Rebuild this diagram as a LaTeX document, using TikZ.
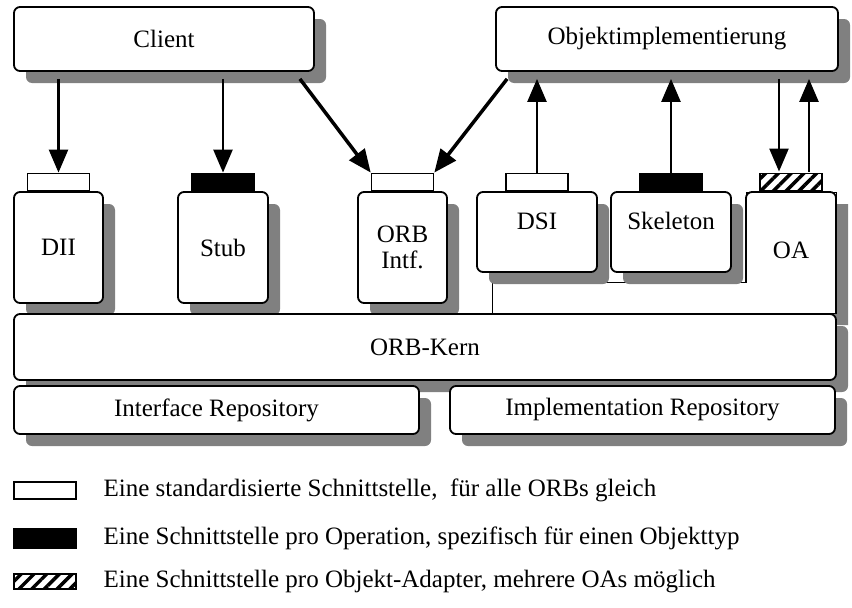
\documentclass[tikz,border=0pt]{standalone}
\usepackage{fontspec}
\setmainfont{Liberation Serif}
\usetikzlibrary{arrows.meta,shadows,patterns.meta,positioning}

\definecolor{shadowgray}{HTML}{808080}

\tikzset{
  box/.style={draw, line width=1.8pt, rounded corners=6pt, fill=white,
    drop shadow={shadow xshift=12pt, shadow yshift=-12pt, fill=shadowgray, opacity=1}},
  tab/.style={draw, line width=1.5pt, minimum width=62pt, minimum height=17pt,
    inner sep=0pt, anchor=south},
  arr/.style={line width=2.5pt, -{Triangle[length=23pt, width=19pt]}},
  darr/.style={arr, line width=3.5pt},
  hatch/.style={pattern={Lines[angle=45, distance=9pt, line width=3.5pt]}},
}

\begin{document}
\begin{tikzpicture}[x=1pt, y=-1pt, font=\fontsize{25}{29}\selectfont]
\fill[white] (0,0) rectangle (852,608);
\useasboundingbox (0,0) rectangle (852,608);

% Upper layer
\node[box, minimum width=300pt, minimum height=64pt] (client) at (164,39) {Client};
\node[box, minimum width=342pt, minimum height=64pt] (objekt) at (667,39) {Objektimplementierung};

% Object adapter frame
\draw[line width=1pt, fill=white,
  drop shadow={shadow xshift=12pt, shadow yshift=-12pt, fill=shadowgray, opacity=1}]
  (492,282) -- (492,313) -- (836,313) -- (836,192) -- (746,192) -- (746,282) -- cycle;
\draw[line width=1.8pt, rounded corners=6pt] (746,282) -- (746,192) -- (836,192) -- (836,313);
\node (oa) at (791,250) {OA};
\coordinate (oaTop) at (791,192);

% Interfaces
\node[box, minimum width=120pt, minimum height=80pt, text depth=22pt] (dsi) at (537,232) {DSI};
\node[box, minimum width=120pt, minimum height=80pt, text depth=22pt] (skeleton) at (671,232) {Skeleton};
\node[box, minimum width=89pt, minimum height=111pt] (dii) at (58.5,247.5) {DII};
\node[box, minimum width=90pt, minimum height=111pt] (stub) at (223,247.5) {Stub};
\node[box, minimum width=89pt, minimum height=111pt, align=center] (orbIntf) at (402.5,247.5) {ORB\\[-3pt]Intf.};

% Kern and repositories
\node[box, minimum width=822pt, minimum height=66pt] (kern) at (425,347) {ORB-Kern};
\node[box, minimum width=405pt, minimum height=48pt] (ifRepo) at (216.5,410) {Interface Repository};
\node[box, minimum width=385pt, minimum height=48pt] (implRepo) at (642.5,410) {Implementation Repository};

% Tabs
\node[tab, fill=white] (diiTab) at (dii.north) {};
\node[tab, fill=black] (stubTab) at (stub.north) {};
\node[tab, fill=white] (orbTab) at (orbIntf.north) {};
\node[tab, fill=white] (dsiTab) at (dsi.north) {};
\node[tab, fill=black] (skelTab) at (skeleton.north) {};
\node[tab, fill=white, hatch] (oaTab) at (oaTop) {};

% Calls
\draw[arr, shorten <=7pt] (client.south -| diiTab.north) -- (diiTab.north);
\draw[arr, shorten <=7pt] (client.south -| stubTab.north) -- (stubTab.north);
\draw[darr] ([xshift=-15pt, yshift=-7pt]client.south east) -- (orbTab.north west);
\draw[darr] ([xshift=12pt, yshift=-7pt]objekt.south west) -- (orbTab.north east);
\draw[arr, shorten >=7pt] (dsiTab.north) -- (dsiTab.north |- objekt.south);
\draw[arr, shorten >=7pt] (skelTab.north) -- (skelTab.north |- objekt.south);
\draw[arr, shorten <=7pt] ([xshift=-12pt]oaTab.north |- objekt.south) -- ([xshift=-12pt]oaTab.north);
\draw[arr, shorten >=7pt] ([xshift=18pt]oaTab.north) -- ([xshift=18pt]oaTab.north |- objekt.south);

% Legend
\node[tab, anchor=center, fill=white] (keyStd) at (45,490.5) {};
\node[tab, anchor=center, fill=black, minimum height=19pt] (keyOp) at (45,538.5) {};
\node[tab, anchor=center, fill=white, hatch, minimum height=15pt] (keyOa) at (45,581.5) {};
\node[anchor=west] (txtStd) at (100,490.5) {Eine standardisierte Schnittstelle,~ für alle ORBs gleich};
\node[anchor=west] (txtOp) at (100,538.5) {Eine Schnittstelle pro Operation, spezifisch für einen Objekttyp};
\node[anchor=west] (txtOa) at (100,581.5) {Eine Schnittstelle pro Objekt-Adapter, mehrere OAs möglich};
\end{tikzpicture}
\end{document}
